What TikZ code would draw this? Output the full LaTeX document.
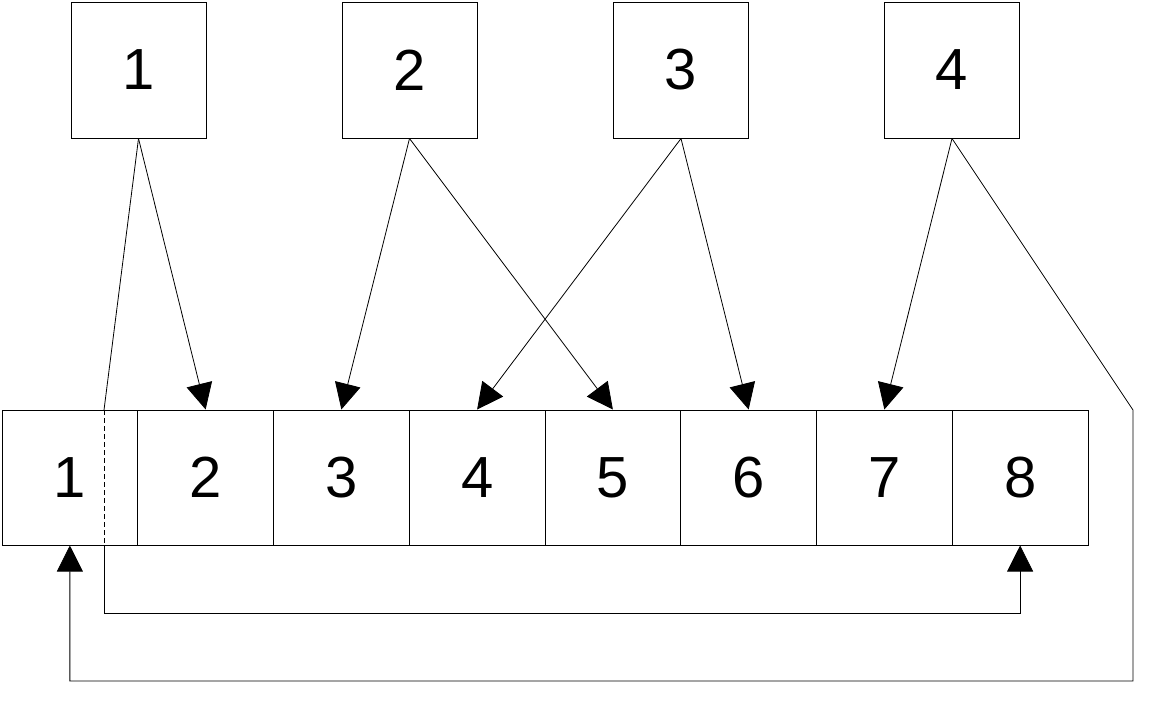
\documentclass[tikz,border=0pt]{standalone}
\usepackage{fontspec}
\setmainfont{Liberation Sans}
\usetikzlibrary{arrows.meta}
\begin{document}
\begin{tikzpicture}[x=1pt,y=-1pt,
  box/.style={draw,line width=1pt,minimum width=135.75pt,minimum height=135pt,inner sep=0pt,font=\fontsize{58}{60}\selectfont},
  tbox/.style={draw,line width=1pt,minimum width=135pt,minimum height=136pt,inner sep=0pt,font=\fontsize{58}{60}\selectfont},
  conn/.style={line width=0.8pt},
  arr/.style={conn,-{Triangle[length=26pt,width=26pt]}}]
\useasboundingbox (0,0) rectangle (1152,724);
\fill[white] (0,0) rectangle (1152,724);
\node[tbox] (t1) at (138.5,70) {1};
\node[tbox] (t2) at (409.5,70) {2};
\node[tbox] (t3) at (681,70) {3};
\node[tbox] (t4) at (952,70) {4};
\foreach \i in {1,...,8}{
  \node[box] (b\i) at ({2+67.875+135.75*(\i-1)},477.5) {\i};
}
\coordinate (d1top) at (104,410);
\coordinate (d1bot) at (104,545);
\coordinate (la) at (104,613);
\coordinate (r1) at (1133,410);
\coordinate (r2) at (1133,681);
\draw[arr] (t1.south) -- (b2.north);
\draw[conn] (t1.south) -- (d1top);
\draw[conn,dash pattern=on 5pt off 3pt] (d1top) -- (d1bot);
\draw[arr] (d1bot) -- (la) -| (b8.south);
\draw[arr] (t2.south) -- (b3.north);
\draw[arr] (t2.south) -- (b5.north);
\draw[arr] (t3.south) -- (b4.north);
\draw[arr] (t3.south) -- (b6.north);
\draw[arr] (t4.south) -- (b7.north);
\draw[arr] (t4.south) -- (r1) -- (r2) -| (b1.south);
\end{tikzpicture}
\end{document}
